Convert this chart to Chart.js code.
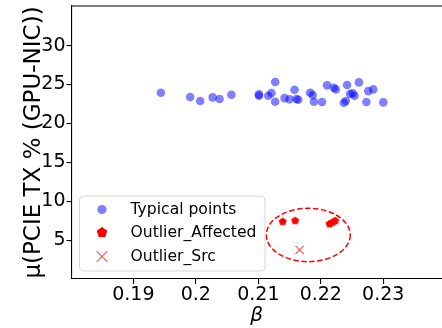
<!DOCTYPE html>
<html>
<head>
<meta charset="utf-8">
<script src="https://cdn.jsdelivr.net/npm/chart.js@4.4.1/dist/chart.umd.min.js"></script>
<style>
  html, body { margin: 0; padding: 0; background: #fff; }
  #wrap { width: 442px; height: 328px; }
</style>
</head>
<body>
<div id="wrap"><canvas id="chart1" width="442" height="328"></canvas></div>
<script>
// values
const typicalX = [0.1944, 0.1991, 0.2007, 0.2027, 0.2038, 0.2057, 0.2101, 0.2101, 0.2116, 0.2121,
  0.2127, 0.2127, 0.2142, 0.2150, 0.2158, 0.2161, 0.2164, 0.2183, 0.2187, 0.2189,
  0.2202, 0.2210, 0.2221, 0.2224, 0.2237, 0.2240, 0.2242, 0.2247, 0.2251, 0.2254,
  0.2261, 0.2273, 0.2276, 0.2284, 0.2300];
const typicalY = [23.95, 23.39, 22.88, 23.35, 23.14, 23.69, 23.74, 23.56, 23.56, 23.91,
  25.32, 22.79, 23.26, 23.10, 24.33, 23.14, 23.05, 23.95, 23.65, 22.79,
  22.75, 24.90, 24.59, 24.38, 22.66, 22.88, 24.94, 23.78, 23.87, 23.56,
  25.28, 22.75, 24.16, 24.38, 22.71];
const affectedX = [0.2139, 0.2159, 0.2214, 0.2219, 0.2223];
const affectedY = [7.42, 7.54, 7.13, 7.33, 7.52];
const srcX = [0.2166];
const srcY = [3.73];
const xTicks = [0.19, 0.20, 0.21, 0.22, 0.23];
const yTicks = [5, 10, 15, 20, 25, 30];
const seriesNames = ['Typical points', 'Outlier_Affected', 'Outlier_Src'];
// dashed ellipse around the outliers (data units)
const ringCenter = [0.2180, 5.66];
const ringRadius = [0.00672, 3.43];

const FONT = 'DejaVu Sans';

function pentagonPath(ctx, cx, cy, r) {
  ctx.beginPath();
  for (let i = 0; i < 5; i++) {
    const a = -Math.PI / 2 + i * 2 * Math.PI / 5;
    const px = cx + r * Math.cos(a), py = cy + r * Math.sin(a);
    if (i === 0) ctx.moveTo(px, py); else ctx.lineTo(px, py);
  }
  ctx.closePath();
}

function pentagonImage(r) {
  const c = document.createElement('canvas');
  const s = Math.ceil(r * 2 + 2);
  c.width = s; c.height = s;
  const g = c.getContext('2d');
  g.fillStyle = '#ff0000';
  pentagonPath(g, s / 2, s / 2 + 0.4, r);
  g.fill();
  return c;
}

const toPts = (xs, ys) => xs.map((x, i) => ({x: x, y: ys[i]}));

const data = {
  datasets: [{
    label: seriesNames[0],
    data: toPts(typicalX, typicalY),
    backgroundColor: 'rgba(0,0,255,0.5)',
    borderWidth: 0,
    pointRadius: 4.3,
    pointHoverRadius: 4.3
  }, {
    label: seriesNames[1],
    data: toPts(affectedX, affectedY),
    pointStyle: pentagonImage(4.2),
    backgroundColor: '#ff0000',
    borderWidth: 0
  }, {
    label: seriesNames[2],
    data: toPts(srcX, srcY),
    pointStyle: 'crossRot',
    borderColor: '#ff0000',
    borderWidth: 1,
    pointRadius: 5.8
  }]
};

// dashed ring + top frame line
const extras = {
  id: 'extras',
  afterDatasetsDraw(chart) {
    const {ctx, chartArea: a, scales: {x, y}} = chart;
    const cx = x.getPixelForValue(ringCenter[0]);
    const cy = y.getPixelForValue(ringCenter[1]);
    const rx = x.getPixelForValue(ringCenter[0] + ringRadius[0]) - cx;
    const ry = cy - y.getPixelForValue(ringCenter[1] + ringRadius[1]);
    ctx.save();
    ctx.strokeStyle = '#ff0000';
    ctx.lineWidth = 1.5;
    ctx.setLineDash([5.5, 2.5]);
    ctx.beginPath();
    ctx.ellipse(cx, cy, rx, ry, 0, 0, Math.PI * 2);
    ctx.stroke();
    ctx.restore();

    ctx.save();
    ctx.strokeStyle = '#000';
    ctx.lineWidth = 1.1;
    ctx.beginPath();
    ctx.moveTo(a.left, a.top);
    ctx.lineTo(a.right, a.top);
    ctx.stroke();
    ctx.restore();
  }
};

// matplotlib-like legend in the lower left corner
const boxLegend = {
  id: 'boxLegend',
  afterDraw(chart) {
    const ctx = chart.ctx;
    const bx = 79.5, by = 196, bw = 185.5, bh = 75, r = 4;
    ctx.save();
    ctx.fillStyle = 'rgba(255,255,255,0.8)';
    ctx.strokeStyle = '#d6d6d6';
    ctx.lineWidth = 1;
    ctx.beginPath();
    ctx.roundRect(bx, by, bw, bh, r);
    ctx.fill();
    ctx.stroke();

    const mx = 102, rows = [209.5, 232, 256.5];
    ctx.fillStyle = 'rgba(0,0,255,0.5)';
    ctx.beginPath();
    ctx.arc(mx, rows[0], 4.6, 0, Math.PI * 2);
    ctx.fill();

    ctx.fillStyle = '#ff0000';
    pentagonPath(ctx, mx, rows[1] + 0.5, 5.6);
    ctx.fill();

    ctx.strokeStyle = '#ff0000';
    ctx.lineWidth = 1;
    ctx.beginPath();
    ctx.moveTo(mx - 5.3, rows[2] - 5.3); ctx.lineTo(mx + 5.3, rows[2] + 5.3);
    ctx.moveTo(mx + 5.3, rows[2] - 5.3); ctx.lineTo(mx - 5.3, rows[2] + 5.3);
    ctx.stroke();

    ctx.fillStyle = '#000';
    ctx.font = '15.6px "' + FONT + '"';
    ctx.textBaseline = 'middle';
    ctx.textAlign = 'left';
    chart.data.datasets.forEach((ds, i) => ctx.fillText(ds.label, 130.5, rows[i] + 0.5));
    ctx.restore();
  }
};

const tickFont = {family: FONT, size: 19};
const titleFont = {family: FONT, size: 23};

const options = {
  responsive: false,
  animation: false,
  layout: {autoPadding: false, padding: {top: 6, right: 0, left: 0, bottom: 0}},
  plugins: {legend: {display: false}, tooltip: {enabled: false}},
  scales: {
    x: {
      type: 'linear',
      min: 0.1801,
      max: 0.2394,
      afterBuildTicks: s => { s.ticks = xTicks.map(v => ({value: v})); },
      afterFit: s => { s.height = 49; s.paddingLeft = 0; s.paddingRight = 0; },
      ticks: {
        font: tickFont, color: '#000', padding: 0,
        callback: v => String(Number(v.toFixed(2)))
      },
      grid: {display: true, drawOnChartArea: false, drawTicks: true, tickLength: 5, color: '#000', lineWidth: 1.1},
      border: {display: true, color: '#000', width: 1.1},
      title: {display: true, text: 'β', font: {family: FONT, size: 20, style: 'italic'}, color: '#000', padding: {top: 0, bottom: 0}}
    },
    y: {
      type: 'linear',
      min: 0,
      max: 35.1,
      afterBuildTicks: s => { s.ticks = yTicks.map(v => ({value: v})); },
      afterFit: s => { s.width = 71.5; s.paddingTop = 0; s.paddingBottom = 0; },
      ticks: {font: tickFont, color: '#000', padding: 1},
      grid: {display: true, drawOnChartArea: false, drawTicks: true, tickLength: 5, color: '#000', lineWidth: 1.1},
      border: {display: true, color: '#000', width: 1.1},
      title: {display: true, text: 'μ(PCIE TX % (GPU-NIC))', font: titleFont, color: '#000', padding: {top: 20, bottom: 0}}
    }
  }
};

const ctx = document.getElementById('chart1').getContext('2d');
const myChart = new Chart(ctx, {
  type: 'scatter',
  data: data,
  options: options,
  plugins: [extras, boxLegend]
});
</script>
</body>
</html>
